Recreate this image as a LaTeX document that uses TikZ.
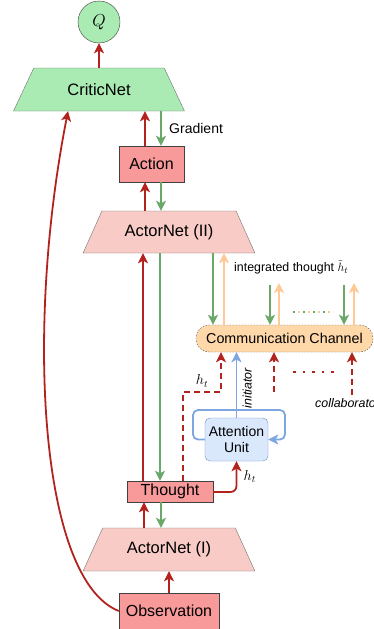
\documentclass[tikz,border=0pt]{standalone}
\usepackage{fontspec}
\setmainfont{Liberation Sans}
\usetikzlibrary{shapes.geometric,arrows.meta}

\definecolor{redline}{HTML}{B3231E}
\definecolor{greenline}{HTML}{6AA86A}
\definecolor{orangeline}{HTML}{FFC996}
\definecolor{blueline}{HTML}{7EA6E0}
\definecolor{boxred}{HTML}{F8999A}
\definecolor{boxpink}{HTML}{F8CBC6}
\definecolor{boxgreen}{HTML}{A9EBB3}
\definecolor{chanfill}{HTML}{FFD8AA}
\definecolor{attnfill}{HTML}{DAE8FC}
\definecolor{attnline}{HTML}{6C8EBF}

\tikzset{
  net/.style={trapezium, trapezium angle=51, trapezium stretches=true,
    minimum width=172pt, minimum height=43pt, inner sep=0pt,
    draw=black!55, font=\fontsize{16.5}{19}\selectfont},
  box/.style={rectangle, draw=black!75, fill=boxred, inner sep=0pt,
    font=\fontsize{16}{19}\selectfont},
  fwd/.style={->, draw=redline, line width=1.8pt},
  bwd/.style={->, draw=greenline, line width=1.8pt},
  back/.style={->, draw=orangeline, line width=1.8pt},
  msg/.style={->, draw=redline, line width=1.8pt, dash pattern=on 6pt off 4pt},
  small/.style={font=\fontsize{12.4}{15}\selectfont}
}

\begin{document}
\begin{tikzpicture}[x=1pt,y=-1pt,>={Stealth[length=10pt,width=10pt,inset=2.5pt]}]

  \useasboundingbox (0,0) rectangle (374,629);

  % nodes
  \node[circle, draw=black!75, fill=boxgreen, minimum size=42pt, inner sep=0pt] (q) at (99,22) {\fontsize{16}{18}\selectfont$Q$};
  \node[net, fill=boxgreen] (critic) at (99,89.5) {CriticNet};
  \node[box, minimum width=65pt, minimum height=36pt] (action) at (151.5,164) {Action};
  \node[net, fill=boxpink, minimum height=42pt] (actor2) at (169,232) {ActorNet (II)};
  \node[rectangle, rounded corners=13pt, draw=black!70, dash pattern=on 1.5pt off 1.5pt, fill=chanfill,
    minimum width=177pt, minimum height=27pt, inner sep=0pt, font=\fontsize{14.3}{17}\selectfont] (chan) at (284.5,338.5) {Communication Channel};
  \node[rectangle, rounded corners=5pt, draw=attnline, fill=attnfill, minimum width=63pt, minimum height=43pt,
    inner sep=0pt, align=center, font=\fontsize{14}{16.5}\selectfont] (attn) at (236.5,439.5) {Attention\\Unit};
  \node[box, minimum width=86pt, minimum height=21pt] (thought) at (170,491.5) {Thought};
  \node[net, fill=boxpink] (actor1) at (169,549.5) {ActorNet (I)};
  \node[box, minimum width=100pt, minimum height=36pt] (obs) at (169,611) {Observation};

  % free ends of the other agents
  \coordinate (g2) at (270,285);
  \coordinate (o2) at (279,283);
  \coordinate (g3) at (344,285);
  \coordinate (o3) at (354,283);
  \coordinate (c2) at (274,392);
  \coordinate (c3) at (352,395);

  % forward pass
  \draw[fwd] (critic.north) -- (q.south);
  \draw[fwd] ([xshift=-6.5pt]action.north) -- ([xshift=46pt]critic.south);
  \draw[fwd] ([xshift=-24pt]actor2.north) -- ([xshift=-6.5pt]action.south);
  \draw[fwd] ([xshift=-27pt]thought.north) -- ([xshift=-26pt]actor2.south);
  \draw[fwd] ([xshift=-25pt]actor1.north) -- ([xshift=-26pt]thought.south);
  \draw[fwd] (obs.north) -- (actor1.south);
  \draw[fwd] (obs.west) .. controls (40,580) and (25,330) .. ([xshift=-31pt]critic.south);
  \draw[fwd, rounded corners=6pt] ([yshift=-0.5pt]thought.east) -| (attn.south)
    node[pos=0.75, right=3pt, font=\fontsize{14}{16}\selectfont] {$h_t$};

  % gradients
  \draw[bwd] ([xshift=62pt]critic.south) -- node[right=4pt, font=\fontsize{14}{16}\selectfont] {Gradient} ([xshift=9.5pt]action.north);
  \draw[bwd] ([xshift=9.5pt]action.south) -- ([xshift=-8pt]actor2.north);
  \draw[bwd] ([xshift=-9pt]actor2.south) -- ([xshift=-10pt]thought.north);
  \draw[bwd] ([xshift=-9pt]thought.south) -- ([xshift=-8pt]actor1.north);
  \draw[bwd] ([xshift=44pt]actor2.south) -- ([xshift=-71.5pt]chan.north);
  \draw[bwd] (g2) -- (g2 |- chan.north);
  \draw[bwd] (g3) -- (g3 |- chan.north);

  % integrated thoughts
  \draw[back] ([xshift=-60.5pt]chan.north) -- ([xshift=55pt]actor2.south);
  \draw[back] (o2 |- chan.north) -- (o2);
  \draw[back] (o3 |- chan.north) -- (o3);
  \node[small, anchor=west, inner sep=0pt] (intlabel) at (234,267) {integrated thought $\tilde{h}_t$};
  \draw[greenline, line width=2pt, dash pattern=on 2pt off 8pt] (293,312) -- (333,312);
  \draw[orangeline, line width=2pt, dash pattern=on 2pt off 8pt, dash phase=5pt] (293,312) -- (333,312);

  % messages
  \draw[msg] ([xshift=13pt]thought.north) |- (221,392) -- ([xshift=-63.5pt]chan.south);
  \node[font=\fontsize{14}{16}\selectfont] (hlabel) at (202,381) {$h_t$};
  \draw[msg] (c2) -- (c2 |- chan.south);
  \draw[msg] (c3) -- (c3 |- chan.south);
  \draw[redline, line width=2.5pt, dash pattern=on 2.5pt off 7pt] (293,372) -- (334,372);
  \node[font=\itshape\fontsize{12.4}{15}\selectfont, anchor=west, inner sep=0pt] (collab) at (315,403) {collaborator};

  % attention
  \draw[->, draw=blueline, line width=1.8pt] (attn.north) -- node[pos=0.45, right=2pt, rotate=90, anchor=north, font=\itshape\fontsize{12.4}{15}\selectfont] {initiator} (attn.north |- chan.south);
  \draw[->, draw=blueline, line width=1.8pt, rounded corners=5pt] (attn.west) -- (193,439.5) |- (285,410) |- (attn.east);

\end{tikzpicture}
\end{document}
